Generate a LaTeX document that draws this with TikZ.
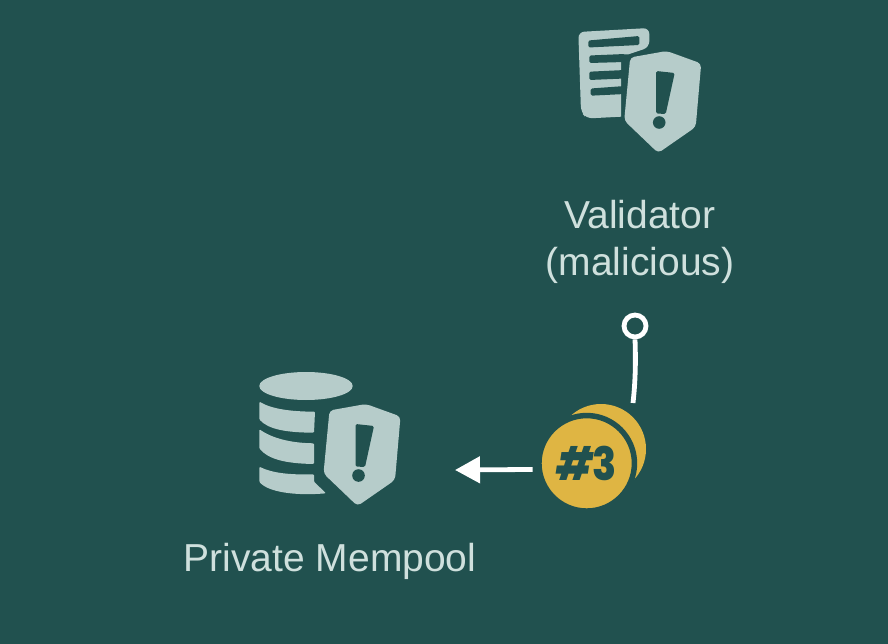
\documentclass[tikz,border=0pt]{standalone}
\usepackage{fontspec}
\setmainfont{Liberation Sans}
\newfontfamily\coinfont[FakeStretch=0.86, BoldFont={* ExtraBold}, BoldItalicFont={* ExtraBold Italic}]{Poppins}
\usepackage{xcolor}
\usepackage{tikz}
\usetikzlibrary{positioning, calc, arrows.meta}

\definecolor{bgteal}{HTML}{21514F}
\definecolor{iconpale}{HTML}{B6CCCA}
\definecolor{labelpale}{HTML}{CFE0DD}
\definecolor{coingold}{HTML}{DFB543}

\tikzset{
    iconfill/.style = {fill = iconpale},
    slotfill/.style = {fill = bgteal},
    labeltext/.style = {text = labelpale, align = center, font = \fontsize{39}{47}\selectfont},
    coinface/.style = {circle, fill = coingold, draw = bgteal, line width = 5.5pt, minimum size = 95.5pt, inner sep = 0pt},
    linkline/.style = {draw = white, line width = 4.8pt},
    shieldicon/.pic = {
        \fill [iconfill, rounded corners = 4pt] (0,0) -- (34.5,12.5) -- (29,76) -- (-8.5,102) -- (-42.5,69.5) -- (-36.5,6.5) -- cycle;
        \fill [slotfill, rounded corners = 1.5pt] (-10.5,20) -- (8,22) -- (-1,63) -- (-10.5,62.5) -- cycle;
        \fill [slotfill] (-7.5,71.5) circle (6.3pt);
    }
}

\begin{document}
\begin{tikzpicture}[x = 1pt, y = -1pt]
    \useasboundingbox [fill = bgteal] (0,0) rectangle (888,644);

    % document with shield
    \fill [iconfill, rounded corners = 6pt] (578.3,32) -- (649.3,28) -- (649.3,47.3)
        [sharp corners] -- (628,54.5) -- (621,54.5) -- (621,116.7) [rounded corners = 6pt] -- (586.7,118.5) -- (581,112) -- cycle;
    \fill [slotfill, rounded corners = 1.5pt] (588.3,40.5) -- (639.3,36) -- (639.3,45) -- (588.3,47.5) -- cycle;
    \fill [slotfill, rounded corners = 1.5pt] (589.3,55.5) -- (625,54) -- (625,62) -- (589.3,63) -- cycle;
    \fill [slotfill, rounded corners = 1.5pt] (589.3,71.7) -- (625,70) -- (625,78.5) -- (589.3,80) -- cycle;
    \fill [slotfill, rounded corners = 1.5pt] (590.7,88.5) -- (625,86) -- (625,94) -- (590.7,95.7) -- cycle;
    \pic at (666.7,51) {shieldicon};

    % database with shield
    \fill [iconfill] (306,386) ellipse (46.7pt and 14pt);
    \fill [iconfill, rounded corners = 1pt] (259.3,401.7) .. controls (272,409) and (290,411.5) .. (315,411.7)
        -- (314,432.7) .. controls (285,432.5) and (268,429) .. (259.3,419.3) -- cycle;
    \fill [iconfill, rounded corners = 1pt] (259.3,429.3) .. controls (272,438) and (290,443) .. (314,443.3)
        -- (314,464) .. controls (285,463.5) and (268,459) .. (259.3,448.3) -- cycle;
    \fill [iconfill, rounded corners = 1pt] (259.3,466.7) .. controls (272,473) and (290,475) .. (314,474.3)
        -- (314,481.7) -- (326,493.3) .. controls (295,496) and (268,492) .. (259.3,481.7) -- cycle;
    \pic at (366,404) {shieldicon};

    \node [labeltext, anchor = base] (validator) at (640,275) {Validator\\(malicious)};
    \node [labeltext, anchor = base] (mempool) at (330,571) {Private Mempool};

    % coins
    \node [circle, fill = coingold, minimum size = 90pt, inner sep = 0pt] (coinback) at (601,449) {};
    \node [coinface, font = \coinfont\bfseries\fontsize{46}{46}\selectfont, text = bgteal] (coin) at (586.7,463.3) {{\itshape\#}3};

    % links
    \node [circle, linkline, minimum size = 22pt, inner sep = 0pt] (ring) at (635,326) {};
    \coordinate (stemend) at (633,403);
    \coordinate (arrowend) at (455,470);
    \draw [linkline] (ring.south) .. controls (636,365) and (635,385) .. (stemend);
    \draw [linkline, -{Triangle[length = 25pt, width = 26pt]}, shorten <= 4pt] (coin.187) -- (arrowend);
\end{tikzpicture}
\end{document}
